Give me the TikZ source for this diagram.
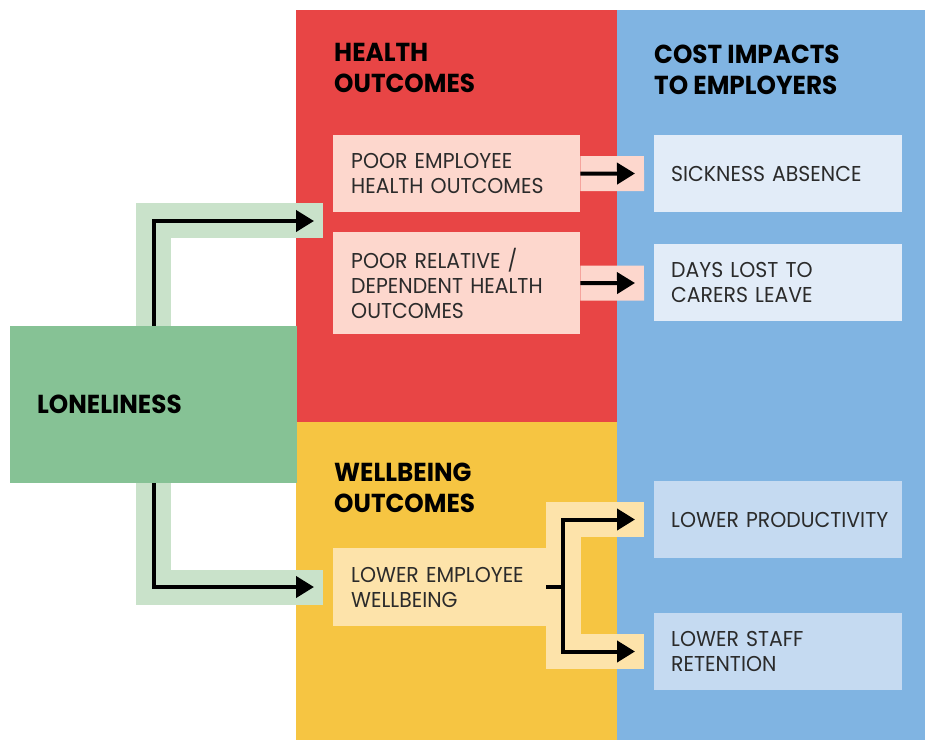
\documentclass[tikz,border=0pt]{standalone}
\usepackage{fontspec}
\setmainfont{Poppins}
\newfontfamily\headfont{Poppins}[FakeStretch=0.95]
\newfontfamily\bodyfont{Poppins}[FakeStretch=0.95]
\usetikzlibrary{arrows.meta}
\definecolor{redp}{HTML}{E84545}
\definecolor{ylwp}{HTML}{F6C542}
\definecolor{bluep}{HTML}{80B4E2}
\definecolor{greenp}{HTML}{86C295}
\definecolor{greenband}{HTML}{C9E2CA}
\definecolor{pinkbox}{HTML}{FDD7CD}
\definecolor{ylwbox}{HTML}{FDE3AA}
\definecolor{bluebox}{HTML}{E2ECF8}
\definecolor{blueboxb}{HTML}{C5DAF1}
\definecolor{txt}{HTML}{2B2B2B}
\hyphenpenalty=10000
\hbadness=10000
\hfuzz=20pt

\begin{document}
\begin{tikzpicture}[x=1pt, y=-1pt,
    arr/.style={line width=4pt, -{Triangle[length=18pt,width=21pt]}},
    band/.style={line width=35pt},
    head/.style={anchor=north west, inner sep=0pt, align=left, text=black,
        font=\headfont\bfseries\fontsize{26}{31}\selectfont},
    box/.style={anchor=north west, inner xsep=18pt, inner ysep=0pt, align=left,
        text=txt, minimum height=77pt, font=\bodyfont\fontsize{21.5}{25}\selectfont},
    bbox/.style={box, inner xsep=17pt, text width=214pt}]
\useasboundingbox (0,0) rectangle (925,740);
\fill[redp] (296,10) rectangle (617,422);
\fill[ylwp] (296,422) rectangle (617,740);
\fill[bluep] (617,10) rectangle (925,740);

\coordinate (tipA) at (314,221);
\coordinate (tipB) at (314,587);
\coordinate (gbA) at (323,220.5);
\coordinate (gbB) at (323,587.5);

\node[head] (hh) at (334,43) {HEALTH\\OUTCOMES};
\node[head] (wh) at (334,463) {WELLBEING\\OUTCOMES};
\node[head] (ch) at (654,45) {COST IMPACTS\\TO EMPLOYERS};

\node[box, fill=pinkbox, text width=211pt] (pe) at (333,135) {POOR EMPLOYEE\\HEALTH OUTCOMES};
\node[box, fill=pinkbox, text width=211pt, minimum height=102pt] (pr) at (333,232) {POOR RELATIVE /\\DEPENDENT HEALTH\\OUTCOMES};
\node[box, fill=ylwbox, text width=177pt, minimum height=78pt] (lew) at (333,548) {LOWER EMPLOYEE\\WELLBEING};

\node[bbox, fill=bluebox] (sick) at (654,135) {SICKNESS ABSENCE};
\node[bbox, fill=bluebox] (days) at (654,244) {DAYS LOST TO\\CARERS LEAVE};
\node[bbox, fill=blueboxb] (prod) at (654,481) {LOWER~PRODUCTIVITY};
\node[bbox, fill=blueboxb] (ret) at (654,613) {LOWER STAFF\\RETENTION};

\coordinate (tipS) at (635,173.5);
\coordinate (tipD) at (635,283);
\coordinate (tipP) at (635,519.5);
\coordinate (tipR) at (635,651.5);
\coordinate (pbS) at (644,173.5);
\coordinate (pbD) at (644,283);
\coordinate (ybP) at (644,519.5);
\coordinate (ybR) at (644,651.5);

\draw[band, greenband] (153.5,404) |- (gbA);
\draw[band, greenband] (153.5,404) |- (gbB);
\draw[band, pinkbox] (pe.east) -- (pbS);
\draw[band, pinkbox] (pr.east) -- (pbD);
\draw[band, ylwbox] (ybP) -| (563.5,585) |- (ybR);

\node[anchor=north west, fill=greenp, minimum width=287pt, minimum height=157pt,
    inner xsep=27pt, text width=233pt, align=left,
    font=\headfont\bfseries\fontsize{26}{31}\selectfont] (lone) at (10,326) {LONELINESS};

\draw[arr] (lone.north) |- (tipA);
\draw[arr] (lone.south) |- (tipB);
\draw[arr] (pe.east) -- (tipS);
\draw[arr] (pr.east) -- (tipD);
\draw[arr] (lew.east) -- ++(17,0) |- (tipP);
\draw[arr] (lew.east) -- ++(17,0) |- (tipR);
\end{tikzpicture}
\end{document}
